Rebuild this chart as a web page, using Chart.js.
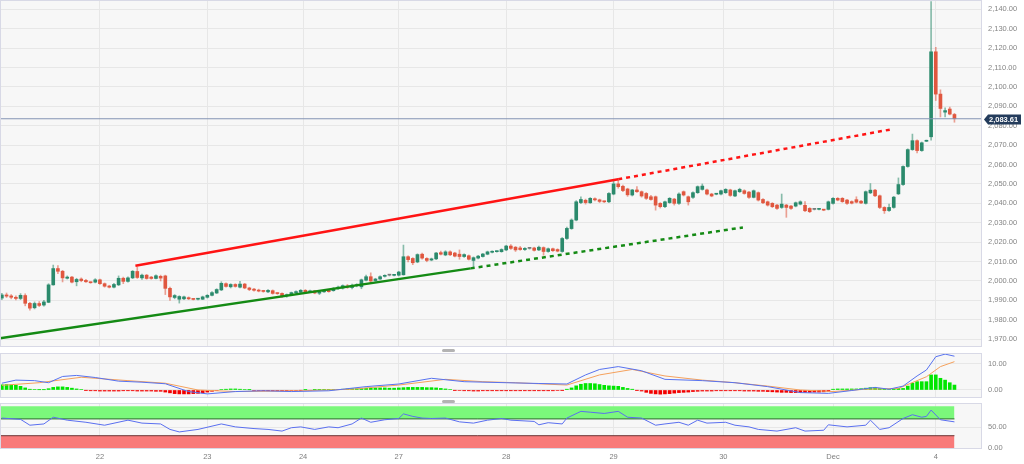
<!DOCTYPE html>
<html>
<head>
<meta charset="utf-8">
<script src="https://cdn.jsdelivr.net/npm/chart.js@4.4.0/dist/chart.umd.min.js"></script>
<style>
  body { margin: 0; background: #fff; width: 1024px; height: 464px; overflow: hidden; position: relative; }
  .pane { position: absolute; left: 0; width: 1024px; }
  #mainPane { top: 0; height: 347px; }
  #macdPane { top: 353px; height: 45px; }
  #rsiPane { top: 403px; height: 61px; }
  .handle { position: absolute; left: 442px; width: 13px; height: 3px; background: #b3b3b3; border-radius: 2px; }
</style>
</head>
<body>
<div class="pane" id="mainPane"><canvas id="mainChart"></canvas></div>
<div class="handle" style="top:349px"></div>
<div class="pane" id="macdPane"><canvas id="macdChart"></canvas></div>
<div class="handle" style="top:400px"></div>
<div class="pane" id="rsiPane"><canvas id="rsiChart"></canvas></div>
<script>
// hourly candles, Nov 21 -> Dec 4
const opens = [
  1991.2, 1992.8, 1992.3, 1991.6, 1991.0, 1992.5, 1988.5, 1986.2, 1988.4, 1987.6,
  1989.0, 1998.0, 2006.4, 2005.0, 2001.4, 2002.0, 1999.6, 2001.0, 2000.3, 1999.3,
  1999.4, 2000.6, 1998.6, 1997.4, 1996.8, 1998.0, 2001.4, 1999.8, 2001.6, 2004.9,
  2001.6, 2003.0, 2002.0, 2001.3, 2002.4, 2002.6, 1996.2, 1991.5, 1990.6, 1990.8,
  1991.4, 1990.6, 1990.6, 1990.6, 1991.6, 1992.6, 1993.8, 1995.4, 1998.6, 1997.0,
  1998.2, 1996.8, 1998.4, 1996.4, 1995.8, 1995.2, 1994.9, 1994.4, 1995.0, 1993.6,
  1993.6, 1992.4, 1992.8, 1994.0, 1994.2, 1995.2, 1994.4, 1994.9, 1993.7, 1994.4,
  1995.2, 1995.0, 1996.0, 1996.4, 1997.4, 1996.6, 1997.6, 1997.0, 2000.4, 2002.2,
  2000.2, 2001.0, 2002.4, 2003.0, 2002.9, 2003.0, 2003.2, 2012.5, 2011.6, 2009.8,
  2013.8, 2011.6, 2010.8, 2011.4, 2014.6, 2013.4, 2015.0, 2014.4, 2013.8, 2012.6,
  2013.0, 2010.6, 2011.8, 2012.6, 2013.8, 2014.8, 2015.1, 2015.1, 2016.0, 2018.0,
  2017.4, 2017.0, 2016.2, 2016.8, 2017.0, 2016.0, 2017.2, 2015.2, 2016.6, 2016.2,
  2015.2, 2021.9, 2027.0, 2031.4, 2040.4, 2041.6, 2040.3, 2042.4, 2041.8, 2040.9,
  2040.8, 2044.8, 2050.0, 2048.8, 2047.4, 2044.3, 2046.9, 2046.0, 2045.1, 2043.4,
  2043.4, 2040.0, 2038.3, 2040.4, 2042.2, 2040.0, 2046.0, 2043.4, 2043.1, 2045.5,
  2047.2, 2046.9, 2044.8, 2044.7, 2044.8, 2045.5, 2046.9, 2043.8, 2046.0, 2046.5,
  2045.8, 2043.1, 2045.5, 2042.0, 2040.8, 2040.0, 2039.1, 2037.9, 2039.1, 2038.6,
  2038.6, 2039.6, 2039.0, 2037.4, 2036.9, 2036.9, 2036.6, 2036.9, 2040.0, 2042.6,
  2042.6, 2041.7, 2040.9, 2041.9, 2041.1, 2040.0, 2045.4, 2046.8, 2043.9, 2037.9,
  2036.3, 2037.9, 2044.9, 2049.7, 2059.0, 2067.7, 2072.3, 2067.2, 2072.0, 2074.3,
  2118.1, 2096.3, 2087.0, 2088.6, 2085.8
];
const highs = [
  1993.6, 1993.8, 1993.0, 1992.3, 1993.5, 1993.4, 1989.0, 1989.2, 1989.4, 1990.0,
  1998.6, 2008.2, 2008.0, 2005.5, 2002.6, 2002.4, 2001.4, 2001.6, 2000.8, 1999.5,
  2001.2, 2001.0, 1999.0, 1997.8, 1998.8, 2002.6, 2002.0, 2002.2, 2005.4, 2007.2,
  2003.6, 2003.4, 2002.4, 2003.2, 2003.0, 2003.0, 1996.8, 1993.0, 1992.4, 1992.2,
  1991.8, 1990.9, 1991.0, 1992.2, 1993.0, 1994.5, 1996.0, 1999.6, 1999.0, 1998.6,
  1998.6, 1999.8, 1998.8, 1996.8, 1996.2, 1995.8, 1995.2, 1995.6, 1995.4, 1993.9,
  1993.9, 1993.3, 1994.3, 1994.9, 1995.6, 1995.6, 1995.3, 1995.2, 1994.6, 1995.0,
  1995.6, 1996.6, 1997.4, 1998.0, 1998.2, 1998.4, 1998.6, 2001.0, 2003.0, 2004.2,
  2001.4, 2002.6, 2003.2, 2003.4, 2003.4, 2005.0, 2018.5, 2013.0, 2012.0, 2014.0,
  2014.4, 2012.0, 2011.8, 2014.8, 2015.4, 2015.6, 2015.6, 2014.8, 2016.0, 2014.0,
  2013.4, 2012.4, 2013.2, 2014.2, 2015.4, 2015.6, 2015.5, 2016.6, 2018.4, 2018.8,
  2017.8, 2017.8, 2017.2, 2017.2, 2017.4, 2018.0, 2017.6, 2017.0, 2017.0, 2016.6,
  2022.4, 2027.8, 2032.0, 2041.4, 2043.4, 2042.2, 2043.0, 2042.8, 2042.2, 2041.2,
  2045.6, 2052.0, 2052.0, 2049.4, 2047.8, 2047.2, 2048.6, 2046.4, 2045.6, 2044.2,
  2043.8, 2040.4, 2041.2, 2043.0, 2042.6, 2045.4, 2046.4, 2043.8, 2045.9, 2049.0,
  2050.0, 2047.4, 2045.2, 2045.0, 2046.8, 2047.6, 2047.3, 2046.9, 2047.8, 2047.0,
  2046.2, 2046.9, 2045.9, 2042.4, 2041.2, 2040.4, 2039.5, 2044.8, 2039.5, 2039.0,
  2040.7, 2041.3, 2040.9, 2037.8, 2037.2, 2037.3, 2036.9, 2041.2, 2043.0, 2043.0,
  2043.0, 2042.1, 2041.3, 2043.4, 2041.5, 2046.4, 2050.2, 2047.2, 2044.3, 2038.3,
  2039.6, 2043.6, 2053.1, 2059.4, 2068.1, 2075.7, 2072.7, 2071.6, 2072.6, 2144.0,
  2120.4, 2098.5, 2089.2, 2089.6, 2086.4
];
const lows = [
  1990.4, 1991.5, 1990.8, 1990.2, 1990.4, 1987.2, 1985.0, 1985.6, 1986.8, 1987.0,
  1988.8, 1997.8, 2003.8, 1999.5, 2001.0, 1999.0, 1997.5, 1999.6, 1999.2, 1998.8,
  1999.0, 1998.2, 1996.8, 1996.4, 1996.4, 1997.6, 1998.6, 1999.4, 2001.2, 2001.3,
  2000.8, 2000.9, 2000.9, 2001.0, 2000.0, 1993.0, 1990.0, 1990.8, 1988.6, 1990.4,
  1990.4, 1990.2, 1990.3, 1990.4, 1991.2, 1992.3, 1993.5, 1995.0, 1996.8, 1996.4,
  1996.8, 1996.4, 1996.0, 1995.0, 1994.7, 1994.4, 1994.2, 1994.0, 1993.2, 1993.1,
  1991.5, 1991.6, 1992.5, 1993.6, 1993.9, 1994.0, 1994.1, 1993.4, 1993.0, 1994.1,
  1994.2, 1994.7, 1995.6, 1995.8, 1996.2, 1995.9, 1997.0, 1996.0, 2000.0, 1999.1,
  1999.8, 2000.8, 2002.0, 2002.6, 2002.6, 2002.6, 2003.0, 2009.8, 2008.4, 2009.4,
  2011.2, 2009.9, 2010.4, 2011.0, 2013.4, 2013.0, 2013.0, 2012.4, 2011.2, 2012.2,
  2010.8, 2006.8, 2011.4, 2012.3, 2013.5, 2014.5, 2014.8, 2014.8, 2015.6, 2016.2,
  2015.2, 2015.8, 2015.8, 2016.4, 2015.4, 2015.6, 2013.3, 2014.8, 2015.2, 2015.0,
  2014.8, 2021.4, 2026.6, 2031.0, 2039.8, 2039.6, 2040.0, 2041.2, 2040.4, 2040.4,
  2040.4, 2044.4, 2047.8, 2046.0, 2043.6, 2043.8, 2045.6, 2043.2, 2042.0, 2041.6,
  2036.5, 2037.6, 2037.8, 2040.0, 2039.1, 2039.4, 2043.8, 2039.1, 2042.6, 2045.1,
  2046.8, 2044.4, 2043.4, 2044.4, 2044.4, 2045.1, 2043.6, 2043.4, 2045.6, 2044.7,
  2042.6, 2042.8, 2041.2, 2039.8, 2038.6, 2037.8, 2036.9, 2037.4, 2032.8, 2036.9,
  2038.2, 2039.2, 2035.7, 2035.2, 2036.6, 2036.6, 2036.2, 2036.6, 2039.6, 2041.3,
  2040.5, 2039.4, 2039.7, 2040.2, 2039.8, 2039.6, 2045.0, 2043.4, 2037.3, 2034.8,
  2035.8, 2037.5, 2044.5, 2049.3, 2058.6, 2067.3, 2066.0, 2066.8, 2071.8, 2072.6,
  2093.0, 2084.5, 2084.6, 2085.6, 2081.8
];
const closes = [
  1992.8, 1992.2, 1991.6, 1991.0, 1992.6, 1988.5, 1986.0, 1988.4, 1987.4, 1989.2,
  1998.0, 2006.4, 2005.0, 2001.6, 2002.0, 1999.4, 2000.8, 2000.2, 1999.6, 1999.1,
  2000.6, 1998.6, 1997.3, 1996.8, 1998.2, 2001.4, 1999.8, 2001.6, 2005.0, 2001.8,
  2003.0, 2001.3, 2001.3, 2002.7, 2001.5, 1996.2, 1991.8, 1992.5, 1992.0, 1991.8,
  1990.8, 1990.5, 1990.7, 1991.8, 1992.6, 1994.0, 1995.6, 1998.8, 1997.2, 1998.2,
  1997.2, 1998.4, 1996.4, 1995.6, 1995.2, 1994.8, 1994.6, 1995.2, 1993.6, 1993.5,
  1992.0, 1992.8, 1994.0, 1994.5, 1995.2, 1994.4, 1994.9, 1993.8, 1994.3, 1994.6,
  1994.5, 1996.2, 1996.8, 1997.6, 1996.8, 1997.8, 1998.0, 2000.6, 2002.2, 2000.0,
  2001.0, 2002.2, 2002.8, 2003.0, 2003.1, 2004.6, 2012.5, 2011.0, 2009.4, 2013.6,
  2011.8, 2010.6, 2011.4, 2014.4, 2013.8, 2015.0, 2013.5, 2012.8, 2012.6, 2013.6,
  2011.2, 2012.0, 2012.8, 2013.9, 2015.0, 2015.2, 2015.2, 2016.2, 2018.0, 2016.8,
  2016.0, 2016.2, 2016.8, 2016.8, 2015.8, 2017.4, 2015.2, 2016.6, 2015.6, 2015.4,
  2021.9, 2027.1, 2031.4, 2040.8, 2042.0, 2040.4, 2042.6, 2041.8, 2041.0, 2040.8,
  2045.1, 2050.0, 2048.6, 2046.6, 2044.4, 2046.9, 2046.0, 2043.8, 2042.6, 2042.0,
  2039.1, 2038.3, 2040.8, 2042.6, 2040.0, 2044.8, 2044.3, 2040.8, 2045.5, 2048.6,
  2048.9, 2044.8, 2043.8, 2044.8, 2046.5, 2047.2, 2044.1, 2046.5, 2047.2, 2045.1,
  2043.1, 2046.5, 2041.7, 2040.3, 2039.1, 2038.3, 2037.4, 2039.6, 2037.9, 2037.4,
  2040.3, 2040.8, 2036.2, 2035.7, 2036.9, 2037.0, 2036.5, 2040.8, 2042.6, 2041.7,
  2040.9, 2040.0, 2040.1, 2040.6, 2040.2, 2046.0, 2046.8, 2043.9, 2037.9, 2036.2,
  2037.9, 2043.2, 2049.7, 2059.0, 2067.7, 2072.3, 2067.2, 2071.2, 2072.3, 2118.1,
  2096.3, 2088.9, 2087.8, 2086.0, 2083.61
];

// day separators (candle index where each day starts) and their labels
const dayStarts = [21, 44, 64.5, 85, 108, 131, 154.5, 178, 200];
const dayLabels = ['22', '23', '24', '27', '28', '29', '30', 'Dec', '4'];
const priceTicks = [1970, 1980, 1990, 2000, 2010, 2020, 2030, 2040, 2050, 2060,
  2070, 2080, 2090, 2100, 2110, 2120, 2130, 2140];

// drawn trend lines: [candle index, price]
const redTrendX = [28.6, 132], redTrendY = [2007.8, 2052.4];
const redProjX = [132, 190.2], redProjY = [2052.4, 2078.0];
const greenTrendX = [-0.4, 100.4], greenTrendY = [1970.5, 2006.5];
const greenProjX = [100.4, 158.7], greenProjY = [2006.5, 2027.6];

// MACD panel
const macdHist = [
  2.0, 2.1, 2.0, 1.8, 1.4, 0.8, 0.3, 0.2, 0.1, 0.1,
  0.5, 1.0, 1.2, 1.2, 1.0, 0.7, 0.4, 0.2, -0.1, -0.3,
  -0.3, -0.4, -0.4, -0.4, -0.4, -0.4, -0.3, -0.3, -0.3, -0.4,
  -0.4, -0.4, -0.4, -0.5, -0.5, -0.8, -1.1, -1.4, -1.5, -1.5,
  -1.5, -1.4, -1.3, -1.1, -0.8, -0.5, -0.2, 0.2, 0.3, 0.4,
  0.4, 0.3, 0.2, 0.1, -0.2, -0.2, -0.3, -0.3, -0.3, -0.3,
  -0.3, -0.3, -0.2, -0.2, -0.1, 0.1, -0.1, 0.1, 0.1, 0.1,
  0.1, 0.1, 0.2, 0.3, 0.4, 0.5, 0.5, 0.6, 0.7, 0.7,
  0.8, 0.8, 0.8, 0.7, 0.7, 0.8, 0.9, 1.0, 1.0, 1.0,
  1.0, 0.9, 0.9, 0.8, 0.6, 0.4, 0.2, -0.1, -0.2, -0.3,
  -0.3, -0.4, -0.4, -0.3, -0.3, -0.3, -0.3, -0.3, -0.3, -0.3,
  -0.3, -0.3, -0.3, -0.3, -0.3, -0.3, -0.3, -0.3, -0.3, -0.2,
  -0.1, 0.3, 0.8, 1.6, 2.2, 2.5, 2.5, 2.4, 2.1, 1.8,
  1.6, 1.5, 1.4, 1.0, 0.6, 0.3, -0.1, -0.4, -0.9, -1.3,
  -1.5, -1.6, -1.5, -1.4, -1.2, -1.0, -0.9, -0.8, -0.6, -0.5,
  -0.4, -0.4, -0.4, -0.3, -0.3, -0.3, -0.3, -0.3, -0.3, -0.4,
  -0.4, -0.4, -0.5, -0.5, -0.6, -0.7, -0.8, -0.9, -0.9, -1.0,
  -1.0, -1.0, -0.9, -0.9, -0.8, -0.8, -0.7, -0.5, 0.3, 0.4,
  0.4, 0.4, 0.4, 0.4, 0.5, 0.7, 0.9, 1.0, 0.6, 0.3,
  0.2, 0.3, 0.6, 0.6, 1.5, 2.6, 3.2, 3.2, 3.2, 5.8,
  5.8, 4.5, 3.8, 2.8, 1.9
];
const macdIdx = [0, 3, 7, 10, 13, 16, 20, 25, 30, 35, 40, 44, 50, 56, 62, 70, 78, 85, 92, 99,
  108, 115, 121, 125, 128, 132, 137, 142, 150, 157, 164, 171, 177, 182, 187, 190, 193, 196, 198, 200, 202, 204];
const macdVals = [2.6, 3.8, 3.6, 2.8, 5.2, 5.6, 4.8, 3.4, 3.0, 2.4, -0.6, -1.5, -0.6, -0.3, -0.6, -0.3, 1.3, 2.3, 4.5, 3.2,
  2.8, 2.5, 2.3, 5.8, 7.9, 9.0, 7.4, 4.1, 3.6, 2.8, 1.3, -1.0, -1.3, -0.2, 1.0, 0.3, 1.5, 5.4, 7.7, 12.8, 13.8, 13.0];
const signalIdx = [0, 8, 17, 27, 35, 42, 50, 64, 75, 85, 95, 103, 110, 121, 128, 135, 142, 150, 157, 164,
  171, 178, 185, 192, 198, 201, 204];
const signalVals = [1.8, 2.8, 4.9, 3.6, 2.6, 0.0, -0.6, -0.3, 0.3, 1.9, 4.1, 3.2, 2.8, 1.9, 5.8, 7.9, 5.4, 3.8, 2.8, 1.5,
  0.0, -0.6, 0.3, 0.6, 5.1, 9.0, 10.9];
const macdTicks = [0, 10];

// RSI panel
const rsiIdx = [0, 4, 6, 9, 11, 14, 18, 22, 27, 30, 34, 36, 38, 42, 47, 50, 54, 57, 60, 62,
  64, 67, 70, 72, 75, 77, 79, 82, 85, 86, 88, 90, 92, 95, 98, 101, 104, 107, 109, 114,
  115, 117, 120, 121, 124, 126, 129, 132, 134, 137, 140, 142, 145, 147, 149, 151, 155, 157, 160, 162,
  166, 170, 172, 176, 177, 181, 185, 186, 188, 190, 193, 195, 197, 198, 199, 201, 204];
const rsiVals = [72, 69, 55, 58, 74, 67, 62, 55, 67, 60, 58, 45, 39, 45, 58, 51, 47, 45, 41, 49,
  51, 45, 51, 49, 58, 72, 62, 68, 71, 82, 76, 72, 71, 72, 63, 60, 67, 71, 67, 64,
  56, 61, 58, 72, 88, 86, 83, 88, 74, 72, 55, 58, 62, 55, 67, 60, 62, 55, 51, 45,
  41, 49, 41, 43, 56, 51, 55, 67, 45, 49, 71, 80, 74, 76, 91, 68, 63];
const rsiTicks = [0, 50];
const overbought = [70, 100], oversold = 30;

// ---- look ----
const X_MIN = -0.4, X_MAX = 209.9;
const UP = '#2b8a6c', DOWN = '#e0573f', FLAT = '#777777';
const UP_WICK = 'rgba(43,138,108,0.55)', DOWN_WICK = 'rgba(224,87,63,0.55)';
const GRID = '#e7e7e7';
Chart.defaults.font.family = '"Liberation Sans", Arial, sans-serif';
Chart.defaults.animation = false;

const fmt = v => v.toLocaleString('en-US', { minimumFractionDigits: 2, maximumFractionDigits: 2 });
const pts = (xs, ys) => xs.map((x, i) => ({ x: x, y: ys[i] }));
const lastIdx = closes.length - 1;

function xAxis(showLabels) {
  return {
    type: 'linear', min: X_MIN, max: X_MAX, offset: false,
    afterBuildTicks: s => { s.ticks = dayStarts.map(v => ({ value: v })); },
    afterFit: s => { s.paddingLeft = 0; s.paddingRight = 0; s.height = showLabels ? 15 : 0; },
    grid: { color: GRID, drawTicks: false, offset: false },
    border: { display: false },
    ticks: {
      display: showLabels, autoSkip: false, maxRotation: 0, padding: 3,
      color: '#7d7d7d', font: { size: 7.5 },
      callback: (v, i) => dayLabels[i]
    }
  };
}

function yAxis(min, max, tickList) {
  return {
    position: 'right', min: min, max: max,
    afterBuildTicks: s => { s.ticks = tickList.map(v => ({ value: v })); },
    afterFit: s => { s.width = 42; s.paddingTop = 0; s.paddingBottom = 0; },
    grid: { color: GRID, drawTicks: false },
    border: { display: false },
    ticks: { padding: 6, color: '#858585', font: { size: 7.5 }, callback: v => fmt(v) }
  };
}

// light panel background and thin frame
const panelFrame = {
  id: 'panelFrame',
  beforeDraw(chart) {
    const { ctx, chartArea: a } = chart;
    ctx.save();
    ctx.fillStyle = '#f7f7f7';
    ctx.fillRect(a.left, a.top, a.right - a.left, a.bottom - a.top);
    ctx.restore();
  },
  afterDraw(chart) {
    const { ctx, chartArea: a } = chart;
    ctx.save();
    ctx.strokeStyle = '#d8d9e6';
    ctx.lineWidth = 1;
    ctx.strokeRect(a.left + 0.5, a.top + 0.5, a.right - a.left - 1, a.bottom - a.top - 1);
    ctx.restore();
  }
};

// last price tag on the right axis
const lastPriceTag = {
  id: 'lastPriceTag',
  afterDraw(chart) {
    const { ctx } = chart;
    const last = closes[lastIdx];
    const y = Math.round(chart.scales.y.getPixelForValue(last)) + 0.5;
    const x = chart.chartArea.right + 2;
    ctx.save();
    ctx.fillStyle = '#243c5c';
    ctx.beginPath();
    ctx.moveTo(x, y);
    ctx.lineTo(x + 4, y - 5);
    ctx.lineTo(x + 37, y - 5);
    ctx.lineTo(x + 37, y + 5);
    ctx.lineTo(x + 4, y + 5);
    ctx.closePath();
    ctx.fill();
    ctx.fillStyle = '#fff';
    ctx.font = 'bold 7.5px "Liberation Sans", Arial, sans-serif';
    ctx.textBaseline = 'middle';
    ctx.fillText(fmt(last), x + 5, y + 0.5);
    ctx.restore();
  }
};

const candleColor = i => closes[i] > opens[i] ? UP : closes[i] < opens[i] ? DOWN : FLAT;
const wickColor = i => closes[i] >= opens[i] ? UP_WICK : DOWN_WICK;
const lineSet = (data, color, width, dash) => ({
  type: 'line', data: data, borderColor: color, borderWidth: width,
  borderDash: dash || [], pointRadius: 0, fill: false, tension: 0, order: 0
});

new Chart(document.getElementById('mainChart'), {
  type: 'bar',
  data: {
    datasets: [
      lineSet(pts(redTrendX, redTrendY), '#ff1414', 2.5),
      lineSet(pts(redProjX, redProjY), '#ff1414', 2.5, [4, 4]),
      lineSet(pts(greenTrendX, greenTrendY), '#148a14', 2.5),
      lineSet(pts(greenProjX, greenProjY), '#148a14', 2.5, [4, 4]),
      lineSet(pts([X_MIN, X_MAX], [closes[lastIdx], closes[lastIdx]]), '#8595b4', 1.2),
      {
        label: 'bodies',
        data: closes.map((c, i) => ({ x: i, y: [opens[i], c] })),
        backgroundColor: closes.map((c, i) => candleColor(i)),
        barThickness: 3, minBarLength: 1, grouped: false, order: 1
      },
      {
        label: 'wicks',
        data: closes.map((c, i) => ({ x: i, y: [lows[i], highs[i]] })),
        backgroundColor: closes.map((c, i) => wickColor(i)),
        barThickness: 1, grouped: false, order: 2
      }
    ]
  },
  options: {
    responsive: true, maintainAspectRatio: false, devicePixelRatio: 1,
    layout: { padding: 0 },
    plugins: { legend: { display: false }, tooltip: { enabled: false } },
    scales: { x: xAxis(false), y: yAxis(1965.98, 2144.79, priceTicks) }
  },
  plugins: [panelFrame, lastPriceTag]
});

new Chart(document.getElementById('macdChart'), {
  type: 'bar',
  data: {
    datasets: [
      lineSet(pts(macdIdx, macdVals), '#5873f0', 1),
      lineSet(pts(signalIdx, signalVals), '#f5a15c', 1),
      {
        label: 'histogram',
        data: macdHist.map((v, i) => ({ x: i, y: v })),
        backgroundColor: macdHist.map(v => v >= 0 ? '#00e600' : '#f20000'),
        barThickness: 3, grouped: false, order: 1
      }
    ]
  },
  options: {
    responsive: true, maintainAspectRatio: false, devicePixelRatio: 1,
    plugins: { legend: { display: false }, tooltip: { enabled: false } },
    scales: { x: xAxis(false), y: yAxis(-3.08, 14.23, macdTicks) }
  },
  plugins: [panelFrame]
});

new Chart(document.getElementById('rsiChart'), {
  type: 'line',
  data: {
    datasets: [
      { data: pts([X_MIN, lastIdx], [overbought[1], overbought[1]]), borderWidth: 0, pointRadius: 0, fill: false, order: 3 },
      { data: pts([X_MIN, lastIdx], [overbought[0], overbought[0]]), borderColor: '#2f6a2f', borderWidth: 1,
        pointRadius: 0, fill: '-1', backgroundColor: '#7bf87b', order: 3 },
      { data: pts([X_MIN, lastIdx], [oversold, oversold]), borderColor: '#6b3434', borderWidth: 1,
        pointRadius: 0, fill: 'start', backgroundColor: '#f87a7a', order: 3 },
      { data: pts(rsiIdx, rsiVals), borderColor: '#5a6ff0', borderWidth: 1, pointRadius: 0, fill: false, tension: 0, order: 0 }
    ]
  },
  options: {
    responsive: true, maintainAspectRatio: false, devicePixelRatio: 1,
    plugins: { legend: { display: false }, tooltip: { enabled: false } },
    scales: { x: xAxis(true), y: yAxis(-1.67, 107.9, rsiTicks) }
  },
  plugins: [panelFrame]
});
</script>
</body>
</html>
